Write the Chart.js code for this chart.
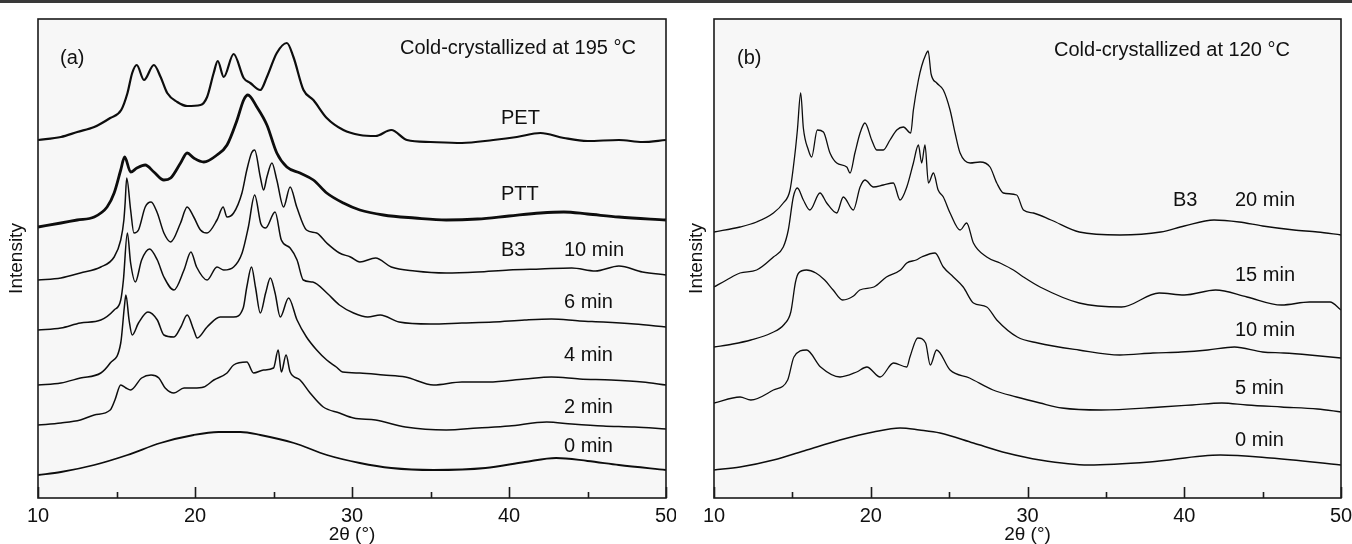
<!DOCTYPE html>
<html>
<head>
<meta charset="utf-8">
<script src="https://cdn.jsdelivr.net/npm/chart.js@4.4.1/dist/chart.umd.min.js"></script>
<style>
  html, body { margin: 0; padding: 0; background: #ffffff; }
  #wrap { position: relative; width: 1352px; height: 544px; overflow: hidden; background: #fff; }
  #band { position: absolute; left: 0; top: 0; width: 1352px; height: 3px; background: #3a3a3a; }
  #ca { position: absolute; left: 0; top: 0; }
  #cb { position: absolute; left: 676px; top: 0; }
</style>
</head>
<body>
<div id="wrap">
  <canvas id="ca" width="676" height="544"></canvas>
  <canvas id="cb" width="676" height="544"></canvas>
  <div id="band"></div>
</div>
<script>
// ---------- DATA (2θ in degrees, intensity in arbitrary stacked units) ----------
const xTickLabels = [10, 20, 30, 40, 50];

// Panel (a): cold-crystallized at 195 °C
const petA = [[10,362],[11.46,365],[12.5,370],[13.58,375],[14.6,384],[15.3,392],[15.7,409],[16.0,429],[16.29,437],[16.75,422],[17.38,437],[17.81,425],[18.23,409],[18.87,400],[19.5,396],[20.35,397],[20.77,405],[21.19,429],[21.45,441],[21.83,425],[22.46,448],[23.10,424],[23.52,419],[24.16,412],[24.58,425],[25.21,449],[25.85,459],[26.27,445],[26.91,412],[27.54,402],[28.39,384],[29.45,372],[30.5,367],[31.5,366],[32.5,372],[33.5,362],[35,360],[37,359],[39,362],[40.5,365],[42,369],[43.5,364],[45,361],[47,362],[48.5,360],[50,362]];
const pttA = [[10,275],[11.46,279],[12.5,282],[13.58,285],[14.4,295],[14.85,309],[15.27,332],[15.52,345],[15.90,330],[16.3,334],[16.83,337],[17.38,330],[18.02,322],[18.45,324],[19.08,339],[19.5,349],[19.92,344],[20.56,340],[21.4,347],[22.04,357],[22.68,382],[23.10,402],[23.37,407],[23.94,395],[24.58,377],[25.21,349],[25.85,335],[26.69,329],[27.54,322],[28.39,309],[29.45,299],[30.5,292],[32,287],[34,284],[36,282],[38,283],[40,286],[42,289],[43.5,290],[45,288],[47,285],[50,282]];
const b3min10A = [[10,222],[11.46,224],[12.7,229],[14.0,235],[14.85,245],[15.27,262],[15.47,282],[15.55,299],[15.65,324],[15.9,292],[16.11,269],[16.4,272],[16.83,295],[17.2,300],[17.6,289],[18.02,269],[18.45,260],[19.08,279],[19.5,295],[19.92,285],[20.35,272],[20.77,269],[21.4,282],[21.79,295],[22.04,285],[22.46,289],[22.99,309],[23.3,332],[23.6,349],[23.8,352],[24.16,325],[24.37,312],[24.58,325],[24.9,339],[25.21,322],[25.64,295],[26.06,315],[26.48,295],[27.1,272],[27.75,269],[28.39,259],[29.2,249],[29.9,245],[30.5,240],[31.5,244],[32.5,235],[34,231],[36,229],[38,230],[40,232],[42,233],[44,234],[45.5,231],[47,236],[48.5,230],[50,227]];
const b3min6A = [[10,172],[11.46,174],[12.7,179],[14.0,182],[14.85,192],[15.27,202],[15.44,222],[15.69,269],[15.9,239],[16.2,220],[16.6,242],[17.1,253],[17.6,242],[18.02,225],[18.66,212],[19.3,232],[19.74,250],[20.1,235],[20.77,222],[21.4,235],[21.83,232],[22.46,235],[23.0,249],[23.4,275],[23.8,307],[24.2,278],[24.5,274],[25.1,290],[25.5,262],[26.06,254],[26.5,242],[26.9,222],[27.5,220],[28.4,209],[29.2,197],[30.1,189],[31.0,185],[31.8,187],[33,180],[35,178],[37,179],[39,180],[41,182],[42.7,183],[44.5,181],[46,180],[48,178],[50,175]];
const b3min4A = [[10,117],[11.46,119],[12.7,124],[14.0,129],[14.6,139],[15.27,159],[15.5,195],[15.6,207],[15.8,182],[16.0,167],[16.4,179],[17.0,190],[17.6,182],[18.02,167],[18.66,165],[19.1,175],[19.5,187],[19.92,172],[20.14,164],[20.77,175],[21.6,185],[22.46,185],[23.07,194],[23.3,215],[23.6,235],[23.85,215],[24.16,189],[24.5,209],[24.8,224],[25.1,209],[25.43,185],[25.96,204],[26.5,182],[27.1,165],[27.75,152],[28.39,142],[29.0,135],[29.4,130],[30.5,129],[32,127],[33.4,125],[35.2,117],[37,120],[38.7,120],[41,123],[42.7,125],[44.5,123],[46.5,122],[48.5,120],[50,117]];
const b3min2A = [[10,77],[11.46,79],[12.7,82],[13.58,87],[14.6,92],[14.9,102],[15.27,117],[15.6,114],[15.9,112],[16.6,124],[17.2,127],[17.7,124],[18.1,114],[18.66,109],[19.3,114],[19.92,114],[20.56,115],[21.2,122],[22.04,129],[22.46,137],[23.3,140],[23.73,129],[24.37,132],[25.0,134],[25.3,152],[25.5,130],[25.8,147],[26.06,130],[26.69,122],[27.33,109],[28.17,95],[29.2,89],[30.1,84],[31.5,82],[33.4,75],[36,72],[38,74],[40,76],[42.4,80],[44,78],[46,76],[48,75],[50,73]];
const b3min0A = [[10,27],[11.46,30],[13.58,37],[15.7,47],[17.8,59],[19.92,67],[21.5,70],[22.9,70],[24.16,67],[26.3,59],[28.4,47],[30.5,39],[32.5,34],[35.2,32],[38.5,34],[41,40],[43,44],[45,41],[47,37],[50,32]];

// Panel (b): B3 cold-crystallized at 120 °C
const b3min20B = [[10,270],[11.66,275],[12.72,280],[13.79,289],[14.42,299],[14.85,312],[15.17,349],[15.32,372],[15.53,409],[15.70,374],[16.02,352],[16.23,345],[16.59,372],[16.98,370],[17.40,349],[17.83,339],[18.47,335],[18.68,329],[18.99,349],[19.32,369],[19.63,379],[20.06,362],[20.38,352],[20.80,352],[21.23,362],[21.66,372],[22.08,375],[22.55,369],[22.72,392],[23.04,422],[23.25,436],[23.5,447],[23.66,451],[23.85,428],[24.21,419],[24.63,412],[25.06,392],[25.38,369],[25.70,349],[26.34,339],[26.97,340],[27.61,335],[28.04,319],[28.46,309],[29.31,307],[29.74,292],[30.38,289],[31.5,282],[33.3,270],[35.9,267],[38.5,270],[40,276],[41.9,282],[43.5,280],[45,276],[47,272],[48.5,270],[50,267]];
const b3min15B = [[10,215],[10.8,222],[11.66,229],[12.72,232],[13.79,245],[14.42,255],[14.74,272],[15.06,305],[15.32,314],[15.70,302],[16.12,292],[16.76,309],[17.19,299],[17.83,289],[18.25,305],[18.89,292],[19.32,315],[19.63,322],[20.17,315],[20.8,317],[21.44,319],[21.87,302],[22.3,315],[22.72,339],[23.04,357],[23.25,339],[23.46,357],[23.68,319],[24.0,329],[24.3,312],[24.63,305],[25.06,289],[25.70,272],[26.12,279],[26.55,259],[27.4,245],[28.25,239],[29.1,232],[29.74,225],[30.8,215],[33.3,199],[36,195],[38.4,209],[40,207],[42,212],[44,205],[46.2,197],[48,200],[49.3,200],[50,192]];
const b3min10B = [[10,155],[11.2,158],[12.35,162],[13.66,169],[14.5,178],[14.9,190],[15.2,220],[15.4,229],[15.9,232],[16.5,229],[17.06,222],[17.6,212],[18.2,202],[18.9,206],[19.3,212],[20.2,215],[21.0,225],[21.9,232],[22.3,239],[22.9,242],[23.25,245],[24.1,249],[24.63,235],[25.27,225],[25.9,215],[26.55,199],[27.4,195],[28.04,182],[29.35,165],[30.66,159],[33.27,152],[35.89,147],[38,149],[39.8,150],[41.5,152],[43.2,155],[45,150],[46.35,149],[48,147],[50,144]];
const b3min5B = [[10,99],[11.66,105],[12.35,102],[13.79,112],[14.7,122],[15.1,145],[15.9,152],[16.8,135],[18.04,125],[19.1,130],[19.75,135],[20.6,125],[21.45,139],[22.3,135],[22.5,145],[23.0,164],[23.5,159],[23.8,137],[24.2,152],[25.06,132],[26.3,124],[27.8,112],[29.3,105],[30.8,99],[32.2,94],[34.7,92],[38.5,95],[40.5,97],[42.4,99],[44,97],[46.2,95],[48.5,93],[50,90]];
const b3min0B = [[10,32],[11.66,35],[13.79,42],[15.91,52],[18.04,62],[20.17,70],[21.87,74],[23.1,72],[24.42,69],[26.55,59],[28.68,49],[30.8,42],[33.9,37],[37.8,40],[42.3,47],[45.5,44],[50,37]];

// Text labels
const textA = ['(a)', 'Cold-crystallized at 195 °C', 'PET', 'PTT', 'B3', '10 min', '6 min', '4 min', '2 min', '0 min'];
const textB = ['(b)', 'Cold-crystallized at 120 °C', 'B3', '20 min', '15 min', '10 min', '5 min', '0 min'];
const axisTitleX = '2θ (°)';
const axisTitleY = 'Intensity';

// ---------- LAYOUT (pixel positions of annotations, relative to each canvas) ----------
const posA = [[60,58],[400,48],[501,118],[501,194],[501,250],[564,250],[564,302],[564,355],[564,407],[564,446]];
const posB = [[61,58],[378,50],[497,200],[559,200],[559,275],[559,330],[559,388],[559,440]];

const FONT = '"Liberation Sans", Arial, Helvetica, sans-serif';

const framePlugin = {
  id: 'frame',
  beforeDraw(chart) {
    const {ctx, chartArea: a} = chart;
    ctx.save();
    ctx.fillStyle = '#f7f7f7';
    ctx.fillRect(a.left, a.top, a.right - a.left, a.bottom - a.top);
    ctx.restore();
  },
  afterDraw(chart, args, opts) {
    const {ctx, chartArea: a} = chart;
    const xs = chart.scales.x;
    ctx.save();
    ctx.strokeStyle = '#1a1a1a';
    ctx.lineWidth = 1.6;
    ctx.strokeRect(a.left, a.top, a.right - a.left, a.bottom - a.top);
    for (let v = 10; v <= 50; v += 5) {
      const px = Math.round(xs.getPixelForValue(v)) + 0.5;
      const len = (v % 10 === 0) ? 11 : 6;
      ctx.beginPath();
      ctx.moveTo(px, a.bottom);
      ctx.lineTo(px, a.bottom - len);
      ctx.stroke();
    }
    ctx.fillStyle = '#111';
    ctx.font = '20px ' + FONT;
    ctx.textBaseline = 'middle';
    ctx.textAlign = 'left';
    opts.texts.forEach((t, i) => {
      const p = opts.pos[i];
      ctx.fillText(t, p[0], p[1]);
    });
    ctx.restore();
  }
};

function ds(data, w) {
  return {
    data: data.map(p => ({x: p[0], y: p[1]})),
    borderColor: '#0d0d0d',
    borderWidth: w,
    pointRadius: 0,
    fill: false,
    cubicInterpolationMode: 'monotone',
    borderJoinStyle: 'round'
  };
}

function makeChart(id, datasets, texts, pos, padRight, yTitlePad) {
  return new Chart(document.getElementById(id), {
    type: 'line',
    data: { datasets },
    plugins: [framePlugin],
    options: {
      responsive: false,
      animation: false,
      devicePixelRatio: 1,
      layout: { padding: { left: 0, right: padRight, top: 19, bottom: 0 } },
      plugins: {
        legend: { display: false },
        tooltip: { enabled: false },
        frame: { texts, pos }
      },
      scales: {
        x: {
          type: 'linear',
          min: 10, max: 50,
          grid: { display: false },
          border: { display: false },
          ticks: {
            stepSize: 5,
            autoSkip: false,
            maxRotation: 0,
            padding: 0,
            color: '#111',
            font: { family: FONT, size: 20, lineHeight: 1 },
            callback: (v) => xTickLabels.includes(v) ? String(v) : ''
          },
          title: {
            display: true,
            text: axisTitleX,
            color: '#111',
            font: { family: FONT, size: 19, lineHeight: 1 },
            padding: { top: 0, bottom: 0 }
          },
          afterFit: (s) => { s.height = 46; s.paddingLeft = 0; s.paddingRight = 0; }
        },
        y: {
          min: 4, max: 483,
          grid: { display: false },
          border: { display: false },
          ticks: { display: false },
          title: {
            display: true,
            text: axisTitleY,
            color: '#111',
            font: { family: FONT, size: 19, lineHeight: 1 },
            padding: { top: yTitlePad, bottom: 0 }
          },
          afterFit: (s) => { s.width = 38; }
        }
      }
    }
  });
}

makeChart('ca', [
  ds(petA, 2.2), ds(pttA, 2.8), ds(b3min10A, 1.5), ds(b3min6A, 1.5),
  ds(b3min4A, 1.5), ds(b3min2A, 1.5), ds(b3min0A, 1.8)
], textA, posA, 10, 7);

makeChart('cb', [
  ds(b3min20B, 1.3), ds(b3min15B, 1.3), ds(b3min10B, 1.3), ds(b3min5B, 1.3), ds(b3min0B, 1.5)
], textB, posB, 11, 11);
</script>
</body>
</html>
